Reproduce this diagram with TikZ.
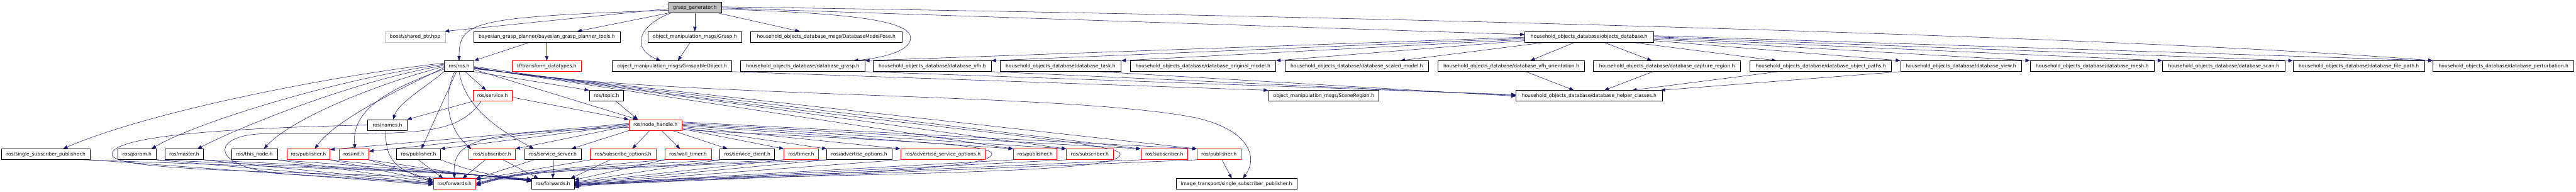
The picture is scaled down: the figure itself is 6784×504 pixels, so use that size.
\documentclass[tikz,border=0pt]{standalone}
\usepackage{fontspec}
\newfontfamily\dvs{DejaVu Sans}
\usetikzlibrary{arrows.meta}
\definecolor{edgec}{RGB}{25,25,112}
\definecolor{grayfill}{RGB}{191,191,191}
\pgfdeclarelayer{edgelayer}
\pgfsetlayers{edgelayer,main}
\tikzset{
  nb/.style={draw=black, line width=1pt, fill=white, minimum height=28pt, inner sep=2pt, font=\dvs\fontsize{12.6pt}{15pt}\selectfont},
  nr/.style={nb, draw=red},
  ngray/.style={nb, draw=grayfill},
  ntop/.style={nb, fill=grayfill},
  dep/.style={draw=edgec, line width=0.9pt, -{Triangle[length=12pt,width=9pt]}},
}
\begin{document}
\begin{tikzpicture}[x=1pt,y=-1pt]
\begin{pgfonlayer}{edgelayer}
\fill[white] (0,0) rectangle (6784,504);
\end{pgfonlayer}
\useasboundingbox (0,0) rectangle (6784,504);
% rank 0
\node[ntop, minimum width=139pt] (gg) at (1830,20) {grasp\_generator.h};
% rank 1
\node[ngray, minimum width=159pt] (boost) at (1093,97) {boost/shared\_ptr.hpp};
\node[nb, minimum width=386pt] (bgpt) at (1440,97) {bayesian\_grasp\_planner/bayesian\_grasp\_planner\_tools.h};
\node[nb, minimum width=247pt] (grasp) at (1830,97) {object\_manipulation\_msgs/Grasp.h};
\node[nb, minimum width=398pt] (dbmp) at (2176,97) {household\_objects\_database\_msgs/DatabaseModelPose.h};
\node[nb, minimum width=339pt] (objdb) at (4185,97) {household\_objects\_database/objects\_database.h};
% rank 2
\node[nb, minimum width=78pt] (ros) at (1209,174) {ros/ros.h};
\node[nr, minimum width=182pt] (tf) at (1440,174) {tf/transform\_datatypes.h};
\node[nb, minimum width=315pt] (gobj) at (1770,174) {object\_manipulation\_msgs/GraspableObject.h};
\node[nb, minimum width=327pt] (dbgrasp) at (2114,174) {household\_objects\_database/database\_grasp.h};
\node[nb, minimum width=311pt] (vfh) at (2455,174) {household\_objects\_database/database\_vfh.h};
\node[nb, minimum width=319pt] (task) at (2793,174) {household\_objects\_database/database\_task.h};
\node[nb, minimum width=384pt] (orig) at (3168,174) {household\_objects\_database/database\_original\_model.h};
\node[nb, minimum width=379pt] (scaled) at (3573,174) {household\_objects\_database/database\_scaled\_model.h};
\node[nb, minimum width=386pt] (vfho) at (3980,174) {household\_objects\_database/database\_vfh\_orientation.h};
\node[nb, minimum width=387pt] (capt) at (4390,174) {household\_objects\_database/database\_capture\_region.h};
\node[nb, minimum width=373pt] (paths) at (4795,174) {household\_objects\_database/database\_object\_paths.h};
\node[nb, minimum width=318pt] (view) at (5164,174) {household\_objects\_database/database\_view.h};
\node[nb, minimum width=327pt] (mesh) at (5510,174) {household\_objects\_database/database\_mesh.h};
\node[nb, minimum width=322pt] (scan) at (5856,174) {household\_objects\_database/database\_scan.h};
\node[nb, minimum width=346pt] (fpath) at (6212,174) {household\_objects\_database/database\_file\_path.h};
\node[nb, minimum width=371pt] (pert) at (6593,174) {household\_objects\_database/database\_perturbation.h};
% rank 3
\node[nr, minimum width=103pt] (service) at (1297,252) {ros/service.h};
\node[nb, minimum width=90pt] (topic) at (1597,252) {ros/topic.h};
\node[nb, minimum width=291pt] (scene) at (3486,252) {object\_manipulation\_msgs/SceneRegion.h};
\node[nb, minimum width=385pt] (helper) at (4185,252) {household\_objects\_database/database\_helper\_classes.h};
% rank 4
\node[nb, minimum width=103pt] (names) at (1020,329) {ros/names.h};
\node[nr, minimum width=139pt] (nh) at (1726,329) {ros/node\_handle.h};
% rank 5
\node[nb, minimum width=233pt] (ssp) at (121,406) {ros/single\_subscriber\_publisher.h};
\node[nb, minimum width=100pt] (param) at (361,406) {ros/param.h};
\node[nb, minimum width=102pt] (master) at (485,406) {ros/master.h};
\node[nb, minimum width=121pt] (thisnode) at (670,406) {ros/this\_node.h};
\node[nr, minimum width=114pt] (pubred) at (812,406) {ros/publisher.h};
\node[nr, minimum width=78pt] (init) at (932,406) {ros/init.h};
\node[nb, minimum width=115pt] (pubblack) at (1102,406) {ros/publisher.h};
\node[nr, minimum width=122pt] (subred) at (1296,406) {ros/subscriber.h};
\node[nb, minimum width=150pt] (sserver) at (1456,406) {ros/service\_server.h};
\node[nr, minimum width=173pt] (subopts) at (1641,406) {ros/subscribe\_options.h};
\node[nr, minimum width=122pt] (walltimer) at (1812,406) {ros/wall\_timer.h};
\node[nb, minimum width=144pt] (sclient) at (1968,406) {ros/service\_client.h};
\node[nr, minimum width=91pt] (timer) at (2110,406) {ros/timer.h};
\node[nb, minimum width=171pt] (advopts) at (2263,406) {ros/advertise\_options.h};
\node[nr, minimum width=223pt] (advsrvopts) at (2483,406) {ros/advertise\_service\_options.h};
\node[nr, minimum width=115pt] (pubred2) at (2726,406) {ros/publisher.h};
\node[nr, minimum width=123pt] (subred2) at (2870,406) {ros/subscriber.h};
\node[nr, minimum width=123pt] (subred3) at (3066,406) {ros/subscriber.h};
\node[nr, minimum width=115pt] (pubred3) at (3210,406) {ros/publisher.h};
% rank 6
\node[nr, minimum width=112pt] (fwdred) at (1197,484) {ros/forwards.h};
\node[nb, minimum width=112pt] (fwdblack) at (1456,484) {ros/forwards.h};
\node[nb, minimum width=318pt] (itssp) at (3256,484) {image\_transport/single\_subscriber\_publisher.h};

\begin{pgfonlayer}{edgelayer}
% grasp_generator
\draw[dep] ([yshift=-3pt]gg.west) -- ([xshift=-2pt]boost.north east);
\draw[dep] ([yshift=-7pt]gg.west) .. controls (1250,45) and (1209,55) .. (ros.north);
\draw[dep] (gg.south west) -- ([xshift=80pt]bgpt.north);
\draw[dep] (gg) -- (grasp);
\draw[dep] ([xshift=6pt]gg.south west) .. controls (1675,70) and (1665,130) .. ([xshift=-30pt]gobj.north);
\draw[dep] ([xshift=-12pt]grasp.south) -- ([xshift=15pt]gobj.north);
\draw[dep] ([xshift=-8pt]gg.south east) -- ([xshift=-70pt]dbmp.north);
\draw[dep] ([yshift=-4pt]gg.east) .. controls (2250,35) and (2398,55) .. (2398,100) .. controls (2398,140) and (2300,155) .. ([xshift=-30pt]dbgrasp.north east);
\draw[dep] ([yshift=-1pt]gg.east) -- ([yshift=6pt]objdb.west);
\draw[dep] ([yshift=2pt]gg.east) .. controls (3500,40) and (5600,95) .. (pert.north west);
% bayesian tools
\draw[dep] ([xshift=-45pt]bgpt.south) -- (ros.north east);
\draw[dep] (bgpt) -- (tf);
% objects_database
\draw[dep] ([yshift=-1pt]objdb.west) -- (dbgrasp.north east);
\draw[dep] ([yshift=-4pt]objdb.west) -- (vfh.north east);
\draw[dep] ([yshift=-7pt]objdb.west) -- (task.north east);
\draw[dep] ([yshift=-10pt]objdb.west) -- (orig.north east);
\draw[dep] ([xshift=55pt]objdb.south west) -- ([xshift=115pt]scaled.north);
\draw[dep] ([xshift=-38pt]objdb.south) -- ([xshift=50pt]vfho.north);
\draw[dep] ([xshift=39pt]objdb.south) -- ([xshift=-40pt]capt.north);
\draw[dep] ([xshift=113pt]objdb.south) -- ([xshift=-117pt]paths.north);
\draw[dep] ([yshift=-10pt]objdb.east) -- (view.north west);
\draw[dep] ([yshift=-6pt]objdb.east) -- (mesh.north west);
\draw[dep] ([yshift=-3pt]objdb.east) -- (scan.north west);
\draw[dep] (objdb.east) -- (fpath.north west);
\draw[dep] ([yshift=3pt]objdb.east) -- (pert.north west);
% helper classes / scene region
\draw[dep] ([xshift=38pt]vfho.south) -- ([xshift=-40pt]helper.north);
\draw[dep] ([xshift=-37pt]capt.south) -- ([xshift=40pt]helper.north);
\draw[dep] ([xshift=-113pt]paths.south) -- ([xshift=113pt]helper.north);
\draw[dep] (view.south west) -- ([xshift=-5pt]helper.north east);
\draw[dep] (dbgrasp.south east) -- ([yshift=3pt]helper.west);
\draw[dep] (vfh.south east) -- ([yshift=1pt]helper.west);
\draw[dep] ([xshift=-60pt]task.south east) -- ([yshift=-1pt]helper.west);
\draw[dep] (gobj.south east) -- (scene.north west);
% ros.h
\draw[dep] ([yshift=8pt]ros.west) .. controls (900,195) and (400,290) .. ([xshift=45pt]ssp.north);
\draw[dep] ([yshift=5pt]ros.west) .. controls (900,205) and (520,320) .. ([xshift=38pt]param.north);
\draw[dep] ([yshift=2pt]ros.west) .. controls (920,215) and (620,340) .. ([xshift=35pt]master.north);
\draw[dep] ([yshift=-1pt]ros.west) .. controls (960,230) and (760,320) .. ([xshift=25pt]thisnode.north);
\draw[dep] ([yshift=-4pt]ros.west) .. controls (1020,250) and (880,320) .. ([xshift=17pt]pubred.north);
\draw[dep] ([yshift=-8pt]ros.west) .. controls (1020,235) and (925,290) .. ([xshift=3pt]init.north);
\draw[dep] (ros.south west) .. controls (1120,230) and (1050,270) .. ([xshift=15pt]names.north);
\draw[dep] ([xshift=-7pt]ros.south) -- ([xshift=8pt]pubblack.north);
\draw[dep] ([xshift=-12pt]ros.south) .. controls (1165,260) and (1180,340) .. ([xshift=-55pt]subred.north);
\draw[dep] (ros.south) .. controls (1225,290) and (1330,350) .. ([xshift=-50pt]sserver.north);
\draw[dep] ([xshift=16pt]ros.south) -- ([xshift=-17pt]service.north);
\draw[dep] (ros.south east) -- (topic.north west);
\draw[dep] ([yshift=-9pt]ros.east) -- ([xshift=23pt]nh.north west);
\draw[dep] ([yshift=-4pt]ros.east) -- (pubred2.north west);
\draw[dep] ([yshift=-5pt]ros.east) -- (subred2.north west);
\draw[dep] ([yshift=-6pt]ros.east) -- (subred3.north west);
\draw[dep] ([yshift=-7pt]ros.east) -- (pubred3.north west);
\draw[dep] ([yshift=-3pt]ros.east) .. controls (1700,260) and (2800,240) .. (3150,310) .. controls (3300,345) and (3310,420) .. ([xshift=17pt]itssp.north);
\draw[dep] ([yshift=-1pt]ros.east) .. controls (2300,330) and (2945,370) .. (2950,405) .. controls (2955,440) and (2700,450) .. (2200,462) .. controls (1800,472) and (1600,480) .. ([yshift=-9pt]fwdblack.east);
% node_handle.h
\draw[dep] ([yshift=4pt]nh.west) -- ([yshift=-2pt]pubred.north east);
\draw[dep] ([yshift=2pt]nh.west) -- ([yshift=8pt]init.east);
\draw[dep] (nh.west) -- (pubblack.north east);
\draw[dep] ([yshift=-2pt]nh.west) -- (subred.north east);
\draw[dep] ([yshift=-6pt]nh.west) .. controls (1280,350) and (1190,360) .. (fwdred.north);
\draw[dep] (nh.south west) -- ([xshift=49pt]sserver.north);
\draw[dep] ([xshift=-15pt]nh.south) -- ([xshift=24pt]subopts.north);
\draw[dep] ([xshift=16pt]nh.south) -- ([xshift=-21pt]walltimer.north);
\draw[dep] ([xshift=45pt]nh.south) -- ([xshift=-52pt]sclient.north);
\draw[dep] ([yshift=-10pt]nh.east) -- (timer.north west);
\draw[dep] ([yshift=-7pt]nh.east) -- (advopts.north west);
\draw[dep] ([yshift=-4pt]nh.east) -- (advsrvopts.north west);
\draw[dep] ([yshift=-1pt]nh.east) -- (pubred2.north west);
\draw[dep] ([yshift=2pt]nh.east) -- (subred2.north west);
\draw[dep] ([yshift=5pt]nh.east) -- (subred3.north west);
\draw[dep] ([yshift=8pt]nh.east) -- (pubred3.north west);
\draw[dep] ([yshift=-12pt]nh.east) .. controls (2300,370) and (2610,375) .. (2612,405) .. controls (2614,440) and (2300,455) .. (1800,470) .. controls (1650,476) and (1560,482) .. ([yshift=-6pt]fwdblack.east);
% service.h, topic.h
\draw[dep] (service.south west) -- (names.north east);
\draw[dep] ([yshift=-4pt]service.east) -- (nh.north west);
\draw[dep] ([xshift=-30pt]service.south) .. controls (1200,360) and (1100,352) .. (700,352) .. controls (550,352) and (545,445) .. (760,458) .. controls (900,467) and (1050,476) .. ([yshift=2pt]fwdred.west);
\draw[dep] ([xshift=25pt]topic.south) -- ([xshift=-46pt]nh.north);
% names.h
\draw[dep] ([xshift=-4pt]names.south) .. controls (1014,420) and (1040,445) .. ([yshift=6pt]fwdred.west);
\draw[dep] (names.west) .. controls (700,335) and (300,350) .. (295,405) .. controls (290,450) and (700,450) .. ([yshift=10pt]fwdblack.west);
% rank 5 -> forwards (left group)
\draw[dep] (ssp.south east) -- ([yshift=-2pt]fwdred.west);
\draw[dep] ([xshift=-20pt]ssp.south east) .. controls (1200,455) .. ([yshift=-2pt]fwdblack.north west);
\draw[dep] (param.south east) -- (fwdred.west);
\draw[dep] (param.south east) .. controls (1200,455) .. ([yshift=-3pt]fwdblack.north west);
\draw[dep] (master.south east) -- ([yshift=2pt]fwdred.west);
\draw[dep] (master.south east) .. controls (1200,455) .. ([yshift=-4pt]fwdblack.north west);
\draw[dep] (thisnode.south east) -- ([yshift=4pt]fwdred.west);
\draw[dep] (thisnode.south east) .. controls (1200,455) .. ([yshift=-5pt]fwdblack.north west);
\draw[dep] (pubred.south east) -- ([yshift=7pt]fwdred.west);
\draw[dep] (pubred.south east) .. controls (1200,455) .. ([yshift=-6pt]fwdblack.north west);
\draw[dep] (init.south east) -- ([yshift=10pt]fwdred.west);
\draw[dep] (init.south east) .. controls (1200,455) .. ([yshift=-7pt]fwdblack.north west);
\draw[dep] (pubblack.south) -- ([xshift=-30pt]fwdred.north);
\draw[dep] (pubblack.south east) .. controls (1250,452) .. ([yshift=-8pt]fwdblack.north west);
% rank 5 -> forwards (right group)
\draw[dep] ([xshift=-18pt]subred.south) -- ([xshift=21pt]fwdred.north);
\draw[dep] ([xshift=29pt]subred.south) -- ([xshift=-38pt]fwdblack.north);
\draw[dep] (sserver) -- (fwdblack);
\draw[dep] ([xshift=-49pt]sserver.south) -- (fwdred.north east);
\draw[dep] (subopts.south west) -- ([yshift=-3pt]fwdred.north east);
\draw[dep] ([xshift=-34pt]subopts.south) -- ([xshift=-10pt]fwdblack.north east);
\draw[dep] (walltimer.south west) -- ([yshift=-4pt]fwdblack.north east);
\draw[dep] (walltimer.south west) .. controls (1380,452) .. ([yshift=2pt]fwdred.east);
\draw[dep] (sclient.south west) -- ([yshift=5pt]fwdblack.east);
\draw[dep] (sclient.south west) .. controls (1380,452) .. (fwdred.east);
\draw[dep] (timer.south west) -- ([yshift=3pt]fwdblack.east);
\draw[dep] (timer.south west) .. controls (1380,452) .. ([yshift=-2pt]fwdred.east);
\draw[dep] (advopts.south west) -- ([yshift=1pt]fwdblack.east);
\draw[dep] (advopts.south west) .. controls (1380,452) .. ([yshift=-4pt]fwdred.east);
\draw[dep] (advsrvopts.south west) -- (fwdblack.east);
\draw[dep] (pubred2.south west) -- ([yshift=-1pt]fwdblack.east);
\draw[dep] (subred2.south west) -- ([yshift=-2pt]fwdblack.east);
\draw[dep] (subred3.south west) -- ([yshift=-3pt]fwdblack.east);
\draw[dep] (pubred3.south west) -- ([yshift=-4pt]fwdblack.east);
\draw[dep] ([xshift=8pt]pubred3.south) -- ([xshift=-12pt]itssp.north);
\end{pgfonlayer}
\end{tikzpicture}
\end{document}
